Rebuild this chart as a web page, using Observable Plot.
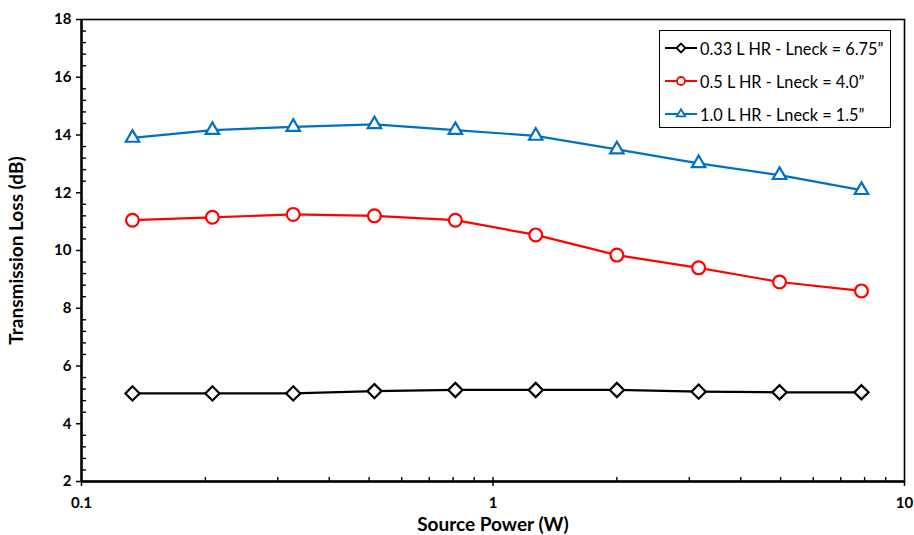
<!DOCTYPE html>
<html>
<head>
<meta charset="utf-8">
<script src="https://cdn.jsdelivr.net/npm/d3@7"></script>
<script src="https://cdn.jsdelivr.net/npm/@observablehq/plot@0.6"></script>
<style>
  html, body { margin: 0; padding: 0; background: #fff; }
  #wrap { position: relative; width: 914px; height: 535px; font-family: Lato, "Open Sans", sans-serif; }
  #legend { position: absolute; left: 659px; top: 30px; width: 230px; height: 96px; border: 1.6px solid #000; background: #fff; box-sizing: content-box; }
  .row { position: absolute; left: 4px; height: 20px; display: flex; align-items: center; font-size: 16.3px; color: #000; white-space: nowrap; }
  .row svg { margin-right: 2px; }
</style>
</head>
<body>
<div id="wrap"><div id="legend"></div></div>
<script>
// ---- data ----
const power = [0.133, 0.208, 0.327, 0.515, 0.81, 1.27, 2.0, 3.16, 4.97, 7.86];
const tl033 = [5.05, 5.05, 5.05, 5.13, 5.17, 5.17, 5.17, 5.11, 5.09, 5.09];
const tl05  = [11.05, 11.15, 11.25, 11.20, 11.05, 10.54, 9.84, 9.40, 8.91, 8.60];
const tl10  = [13.90, 14.17, 14.28, 14.37, 14.17, 13.97, 13.50, 13.02, 12.61, 12.09];
const seriesNames = ["0.33 L HR - Lneck = 6.75\u201D", "0.5 L HR - Lneck = 4.0\u201D", "1.0 L HR - Lneck = 1.5\u201D"];
const seriesColors = ["#000000", "#FF0000", "#0070C0"];
const seriesSymbols = ["diamond2", "circle", "triangle2"];
const xDomain = [0.1, 10];
const yDomain = [2, 18];
const xTicks = [0.1, 1, 10];
const xMinorTicks = [0.2, 0.3, 0.4, 0.5, 0.6, 0.7, 0.8, 0.9, 1, 2, 3, 4, 5, 6, 7, 8, 9];
const yTicks = [2, 4, 6, 8, 10, 12, 14, 16, 18];
const yMinorTicks = d3.range(2, 18.001, 0.4).filter(v => Math.abs(v / 2 - Math.round(v / 2)) > 1e-6);

const seriesValues = [tl033, tl05, tl10];
const rows = [];
seriesNames.forEach((name, i) => power.forEach((p, j) => rows.push({series: name, power: p, tl: seriesValues[i][j]})));

// inward minor tick glyphs
const tickRight = {draw(ctx) { ctx.moveTo(0, 0); ctx.lineTo(4.5, 0); }};
const tickUp = {draw(ctx) { ctx.moveTo(0, 0); ctx.lineTo(0, -4.5); }};

const chart = Plot.plot({
  width: 914,
  height: 535,
  marginLeft: 81,
  marginRight: 10,
  marginTop: 19,
  marginBottom: 54,
  style: {fontFamily: "Lato, 'Open Sans', sans-serif", background: "#fff", color: "#000", overflow: "visible"},
  x: {type: "log", domain: xDomain},
  y: {domain: yDomain},
  color: {domain: seriesNames, range: seriesColors},
  symbol: {domain: seriesNames, range: seriesSymbols},
  marks: [
    Plot.frame({stroke: "#000", strokeWidth: 1.6}),
    Plot.dot(yMinorTicks, {x: () => xDomain[0], y: d => d, symbol: tickRight, stroke: "#000", strokeWidth: 1.4}),
    Plot.dot(xMinorTicks, {x: d => d, y: () => yDomain[0], symbol: tickUp, stroke: "#000", strokeWidth: 1.4}),
    Plot.axisY({ticks: yTicks, tickSize: 5, tickPadding: 5, tickFormat: d => String(d), fontSize: 15, fontWeight: "bold", strokeWidth: 1.5,
      label: "Transmission Loss (dB)", labelAnchor: "center", labelArrow: "none", labelOffset: 72}),
    Plot.axisX({ticks: xTicks, tickSize: 5, tickPadding: 11, tickFormat: d => String(d), fontSize: 15, fontWeight: "bold", strokeWidth: 1.5,
      label: "Source Power (W)", labelAnchor: "center", labelArrow: "none", labelOffset: 49}),
    Plot.ruleX([xDomain[0]], {stroke: "#000", strokeWidth: 2.4}),
    Plot.ruleY([yDomain[0]], {stroke: "#000", strokeWidth: 2.4}),
    Plot.line(rows, {x: "power", y: "tl", z: "series", stroke: "series", strokeWidth: 2.2}),
    Plot.dot(rows, {x: "power", y: "tl", symbol: "series", stroke: "series", fill: "#fff", strokeWidth: 2.2, r: 6.4})
  ]
});
// axis title styling
d3.select(chart).selectAll("g[aria-label='y-axis label'] text, g[aria-label='x-axis label'] text")
  .style("font-size", "19px").style("font-weight", "bold");
document.getElementById("wrap").prepend(chart);
chart.style.position = "absolute"; chart.style.left = "0"; chart.style.top = "0";

// legend (drawn in the chart area, built from the same arrays)
const legend = d3.select("#legend");
seriesNames.forEach((name, i) => {
  const row = legend.append("div").attr("class", "row").style("top", (7 + i * 33) + "px");
  const s = row.append("svg").attr("width", 34).attr("height", 20);
  s.append("line").attr("x1", 1).attr("x2", 33).attr("y1", 10).attr("y2", 10).attr("stroke", seriesColors[i]).attr("stroke-width", 2);
  const sym = {diamond2: d3.symbolDiamond2, circle: d3.symbolCircle, triangle2: d3.symbolTriangle2}[seriesSymbols[i]];
  s.append("path").attr("transform", "translate(17,10)").attr("d", d3.symbol(sym, 50)())
    .attr("fill", "#fff").attr("stroke", seriesColors[i]).attr("stroke-width", 1.8);
  row.append("span").text(name);
});
</script>
</body>
</html>
